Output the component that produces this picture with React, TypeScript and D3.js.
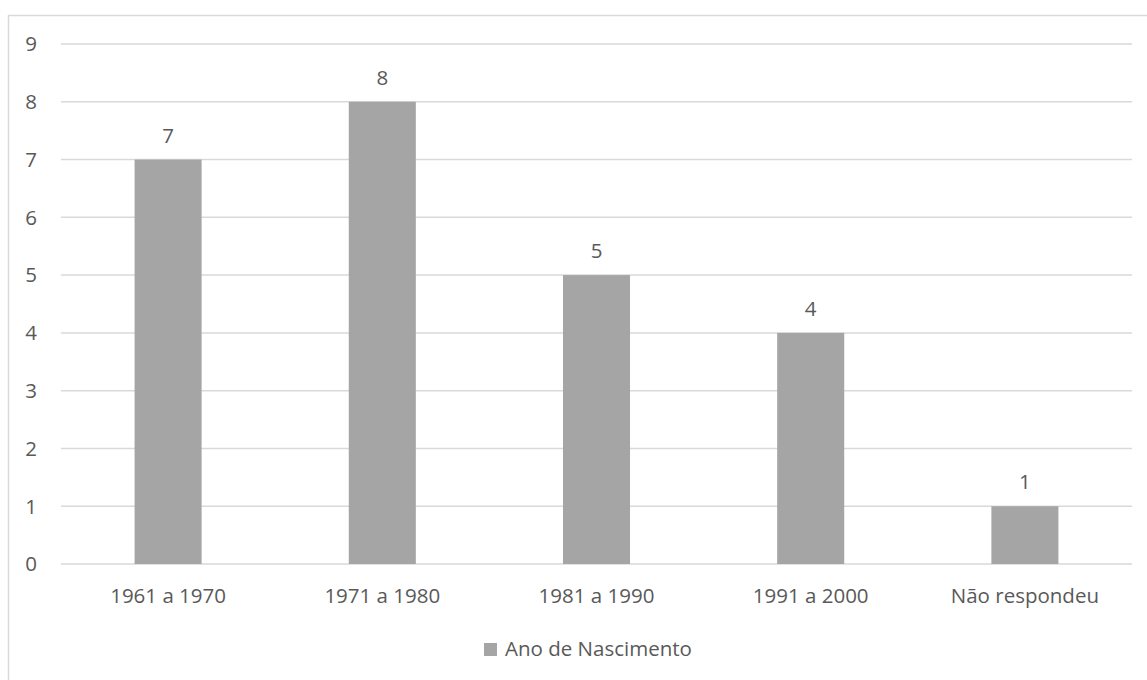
import React from "react";
import * as d3 from "d3";

const categories = ["1961 a 1970", "1971 a 1980", "1981 a 1990", "1991 a 2000", "Não respondeu"];
const values = [7, 8, 5, 4, 1];
const yTicks = [0, 1, 2, 3, 4, 5, 6, 7, 8, 9];
const seriesName = "Ano de Nascimento";

const W = 1147;
const H = 680;
const plot = { left: 61, right: 1132, top: 44, bottom: 564 };
const FONT = "'Open Sans', sans-serif";
const TEXT = "#595959";
const GRID = "#D9D9D9";
const BAR = "#A5A5A5";

export default function App() {
  const x = d3
    .scaleBand<string>()
    .domain(categories)
    .range([plot.left, plot.right])
    .paddingInner(0.687)
    .paddingOuter(0.3435);
  const y = d3.scaleLinear().domain([0, 9]).range([plot.bottom, plot.top]);

  return (
    <svg
      width={W}
      height={H}
      style={{ position: "absolute", left: 0, top: 0, background: "#fff" }}
      fontFamily={FONT}
    >
      <rect x={8.5} y={15.5} width={W} height={H} fill="#fff" stroke={GRID} strokeWidth={1.5} />
      {yTicks.map((t) => (
        <g key={t}>
          <line x1={plot.left} x2={plot.right} y1={y(t)} y2={y(t)} stroke={GRID} strokeWidth={1.5} />
          <text x={37} y={y(t)} dy="0.36em" textAnchor="end" fontSize={20.5} fill={TEXT}>
            {t}
          </text>
        </g>
      ))}
      {categories.map((c, i) => {
        const cx = x(c)! + x.bandwidth() / 2;
        return (
          <g key={c}>
            <rect x={x(c)} y={y(values[i])} width={x.bandwidth()} height={y(0) - y(values[i])} fill={BAR} />
            <text x={cx} y={y(values[i]) - 17} textAnchor="middle" fontSize={20.5} fill={TEXT}>
              {values[i]}
            </text>
            <text x={cx} y={603} textAnchor="middle" fontSize={20.5} fill={TEXT}>
              {c}
            </text>
          </g>
        );
      })}
      <rect x={484} y={643} width={13} height={13} fill={BAR} />
      <text x={505} y={656} fontSize={20.5} fill={TEXT}>
        {seriesName}
      </text>
    </svg>
  );
}
